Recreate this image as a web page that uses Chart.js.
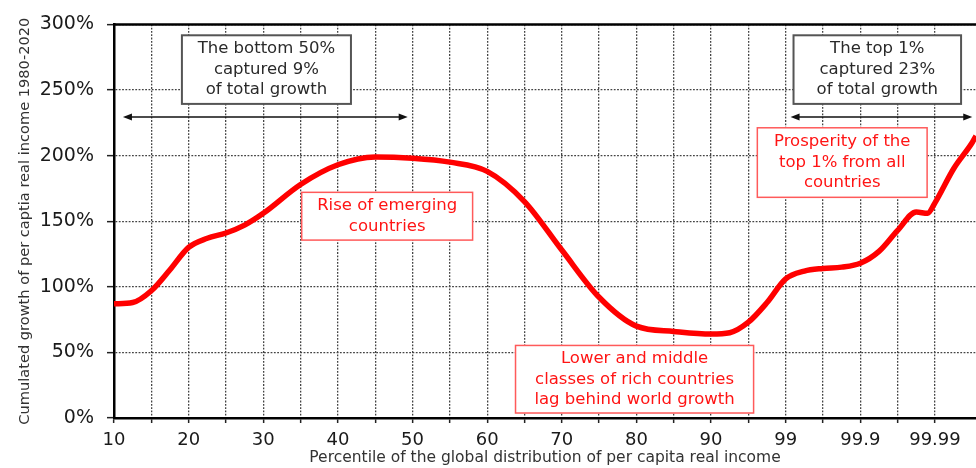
<!DOCTYPE html>
<html>
<head>
<meta charset="utf-8">
<script src="https://cdn.jsdelivr.net/npm/chart.js@4/dist/chart.umd.min.js"></script>
<style>
  html, body { margin: 0; padding: 0; background: #ffffff; }
  #wrap { width: 976px; height: 468px; }
</style>
</head>
<body>
<div id="wrap"><canvas id="c" width="976" height="468"></canvas></div>
<script>
// Axis positions (one unit = one gridline step) and the cumulated growth (%)
const positions = [0, 0.5, 1, 1.5, 2, 2.5, 3, 3.5, 4, 5, 6, 7, 8, 9, 10, 11, 12, 13, 14, 15, 16, 16.5, 17, 17.5, 18, 18.5, 19, 19.5, 20, 20.5, 21, 21.5, 21.8, 22, 22.5, 23, 23.1];
const growth    = [87, 88, 97, 113, 130, 137, 141, 147, 156, 178, 193, 199, 198, 195, 188, 165, 128, 92, 70, 66, 64, 65, 73, 88, 106, 112, 114, 115, 118, 127, 143, 157, 156, 164, 190, 210, 215];

// Percentile tick labels, one every two gridlines
const tickLabels = ['10', '20', '30', '40', '50', '60', '70', '80', '90', '99', '99.9', '99.99'];
const yTicks = [0, 50, 100, 150, 200, 250, 300];

const xTitle = 'Percentile of the global distribution of per capita real income';
const yTitle = 'Cumulated growth of per captia real income 1980-2020';

// Annotation texts
const grayNotes = [
  { lines: ['The bottom 50%', 'captured 9%', 'of total growth'], x0: 1.82, x1: 6.35, y0: 291.7, y1: 239.4 },
  { lines: ['The top 1%', 'captured 23%', 'of total growth'], x0: 18.21, x1: 22.70, y0: 291.7, y1: 239.4 }
];
const redNotes = [
  { lines: ['Rise of emerging', 'countries'], x0: 5.03, x1: 9.61, y0: 172, y1: 135.6 },
  { lines: ['Lower and middle', 'classes of rich countries', 'lag behind world growth'], x0: 10.76, x1: 17.14, y0: 55.3, y1: 3.8 },
  { lines: ['Prosperity of the', 'top 1% from all', 'countries'], x0: 17.24, x1: 21.79, y0: 221.2, y1: 168.2 }
];
const arrows = [
  { x0: 0.24, x1: 7.87, y: 229.5 },
  { x0: 18.13, x1: 23.0, y: 229.5 }
];

const FONT = "'DejaVu Sans', 'Liberation Sans', Arial, sans-serif";

const notesPlugin = {
  id: 'notes',
  beforeDatasetsDraw(chart) {
    const { ctx, chartArea } = chart;
    ctx.save();
    ctx.strokeStyle = '#000';
    ctx.lineWidth = 2.5;
    ctx.beginPath();
    ctx.moveTo(chartArea.left, chartArea.top);
    ctx.lineTo(chartArea.right, chartArea.top);
    ctx.stroke();
    ctx.restore();
  },
  afterDatasetsDraw(chart) {
    const { ctx } = chart;
    const xs = chart.scales.x, ys = chart.scales.y;
    const drawBox = (n, border, bw, color) => {
      const L = xs.getPixelForValue(n.x0), R = xs.getPixelForValue(n.x1);
      const T = ys.getPixelForValue(n.y0), B = ys.getPixelForValue(n.y1);
      ctx.save();
      ctx.fillStyle = '#fff';
      ctx.fillRect(L, T, R - L, B - T);
      ctx.strokeStyle = border;
      ctx.lineWidth = bw;
      ctx.strokeRect(L, T, R - L, B - T);
      ctx.fillStyle = color;
      ctx.font = '16.5px ' + FONT;
      ctx.textAlign = 'center';
      ctx.textBaseline = 'middle';
      const lh = 20.5;
      const cx = (L + R) / 2, cy = (T + B) / 2;
      n.lines.forEach((t, i) => {
        ctx.fillText(t, cx, cy + (i - (n.lines.length - 1) / 2) * lh);
      });
      ctx.restore();
    };
    grayNotes.forEach(n => drawBox(n, '#555', 2, '#2a2a2a'));
    redNotes.forEach(n => drawBox(n, '#ff5a5a', 1.5, '#ff1414'));
    arrows.forEach(a => {
      const L = xs.getPixelForValue(a.x0), R = xs.getPixelForValue(a.x1);
      const Y = ys.getPixelForValue(a.y);
      ctx.save();
      ctx.strokeStyle = '#111';
      ctx.fillStyle = '#111';
      ctx.lineWidth = 1.5;
      ctx.beginPath();
      ctx.moveTo(L + 4, Y); ctx.lineTo(R - 4, Y);
      ctx.stroke();
      ctx.beginPath();
      ctx.moveTo(L, Y); ctx.lineTo(L + 9, Y - 3.5); ctx.lineTo(L + 9, Y + 3.5); ctx.closePath();
      ctx.fill();
      ctx.beginPath();
      ctx.moveTo(R, Y); ctx.lineTo(R - 9, Y - 3.5); ctx.lineTo(R - 9, Y + 3.5); ctx.closePath();
      ctx.fill();
      ctx.restore();
    });
  }
};

new Chart(document.getElementById('c'), {
  type: 'line',
  data: {
    datasets: [{
      data: positions.map((p, i) => ({ x: p, y: growth[i] })),
      borderColor: '#ff0000',
      borderWidth: 5.5,
      pointRadius: 0,
      fill: false,
      tension: 0.4,
      cubicInterpolationMode: 'monotone'
    }]
  },
  options: {
    responsive: false,
    animation: false,
    devicePixelRatio: 1,
    layout: { padding: { top: 22, right: 0, left: 0, bottom: 0 } },
    plugins: { legend: { display: false }, tooltip: { enabled: false } },
    scales: {
      x: {
        type: 'linear',
        min: 0,
        max: 23.1,
        afterBuildTicks(scale) {
          scale.ticks = scale.ticks.filter(t => Number.isInteger(t.value));
        },
        afterFit(scale) { scale.height = 50; },
        ticks: {
          stepSize: 1,
          autoSkip: false,
          maxRotation: 0,
          padding: 7,
          color: '#1a1a1a',
          font: { family: FONT, size: 18 },
          callback: (v) => (v % 2 === 0 && v / 2 < tickLabels.length) ? tickLabels[v / 2] : ''
        },
        grid: {
          color: '#444',
          lineWidth: 1.3,
          tickLength: 5,
          tickColor: '#222',
          tickWidth: 1.5
        },
        border: { display: true, color: '#000', width: 2.5, dash: [1.8, 1.5] },
        title: {
          display: true,
          text: xTitle,
          color: '#333',
          font: { family: FONT, size: 15.5, lineHeight: 1.0 },
          padding: { top: 0, bottom: 2 }
        }
      },
      y: {
        type: 'linear',
        min: 0,
        max: 300,
        afterBuildTicks(scale) {
          scale.ticks = yTicks.map(v => ({ value: v }));
        },
        afterFit(scale) { scale.width = 114; },
        ticks: {
          stepSize: 50,
          padding: 13,
          color: '#1a1a1a',
          font: { family: FONT, size: 19 },
          callback: (v) => v + '%'
        },
        grid: {
          color: '#444',
          lineWidth: 1.3,
          tickLength: 7,
          tickColor: '#222',
          tickWidth: 1.5
        },
        border: { display: true, color: '#000', width: 2.5, dash: [1.8, 1.5] },
        title: {
          display: true,
          text: yTitle,
          color: '#333',
          font: { family: FONT, size: 14.6, lineHeight: 1.2 },
          padding: { top: 16, bottom: 0 }
        }
      }
    }
  },
  plugins: [notesPlugin]
});
</script>
</body>
</html>
